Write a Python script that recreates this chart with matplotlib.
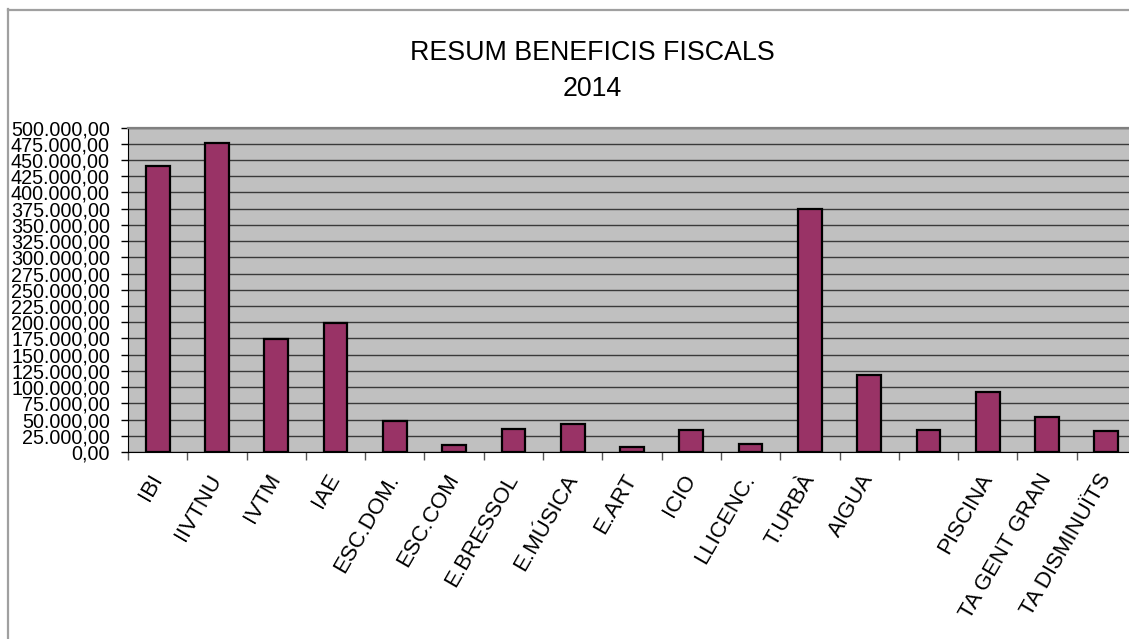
import matplotlib
matplotlib.use("Agg")
import matplotlib.pyplot as plt
from matplotlib.ticker import FuncFormatter, MultipleLocator, FixedLocator
from matplotlib.lines import Line2D
import numpy as np

plt.rcParams['font.family'] = ['Liberation Sans', 'DejaVu Sans']

title = "RESUM BENEFICIS FISCALS\n2014"
categories = ["IBI", "IIVTNU", "IVTM", "IAE", "ESC.DOM.", "ESC.COM", "E.BRESSOL",
              "E.MÚSICA", "E.ART", "ICIO", "LLICENC.", "T.URBÀ", "AIGUA", "",
              "PISCINA", "TA GENT GRAN", "TA DISMINUÏTS"]
values = [440600, 476200, 174700, 199000, 47900, 10400, 36200,
          43900, 7700, 33500, 11900, 373700, 118100, 34600,
          91800, 54100, 32500]

W, H = 1129, 639
fig = plt.figure(figsize=(W / 100, H / 100), dpi=100)
fig.patch.set_facecolor('white')

# outer chart border (extends off the right and bottom)
fig.add_artist(Line2D([7.5 / W, 7.5 / W], [0, 1 - 9 / H], transform=fig.transFigure,
                      color='#A0A0A0', lw=1.6))
fig.add_artist(Line2D([7.5 / W, 1.0], [1 - 9.5 / H, 1 - 9.5 / H], transform=fig.transFigure,
                      color='#A0A0A0', lw=1.6))

left, right, top, bottom = 128, 1136, 127.5, 452
ax = fig.add_axes([left / W, 1 - bottom / H, (right - left) / W, (bottom - top) / H])
ax.set_facecolor('#C0C0C0')

x = np.arange(len(categories))
ax.bar(x, values, width=0.4, color='#993366', edgecolor='black', linewidth=1.6, zorder=3)

ax.set_xlim(-0.5, len(categories) - 0.5)
ax.set_ylim(0, 500000)

ax.yaxis.set_major_locator(MultipleLocator(25000))
def fmt(v, pos):
    s = f"{int(round(v)):,}".replace(",", ".")
    return s + ",00"
ax.yaxis.set_major_formatter(FuncFormatter(fmt))
ax.grid(axis='y', color='#3a3a3a', linewidth=1.0, zorder=1)
ax.tick_params(axis='y', direction='out', length=5, width=1, color='black',
               labelsize=14.2, pad=8)

ax.set_xticks(x)
ax.set_xticklabels(categories, rotation=60, ha='right', va='center',
                   rotation_mode='anchor', fontsize=16)
ax.tick_params(axis='x', which='major', length=0, pad=17)
ax.xaxis.set_minor_locator(FixedLocator(np.arange(-0.5, len(categories), 1.0)))
ax.tick_params(axis='x', which='minor', direction='out', length=6, width=1, color='#555555')

ax.spines['right'].set_visible(False)
ax.spines['top'].set_color('#808080')
ax.spines['top'].set_linewidth(1.6)
ax.spines['left'].set_color('black')
ax.spines['bottom'].set_color('black')

fig.text(592 / W, 1 - 71 / H, title, ha='center', va='center', fontsize=19.3,
         linespacing=1.45)

fig.savefig('out.png', dpi=100)
